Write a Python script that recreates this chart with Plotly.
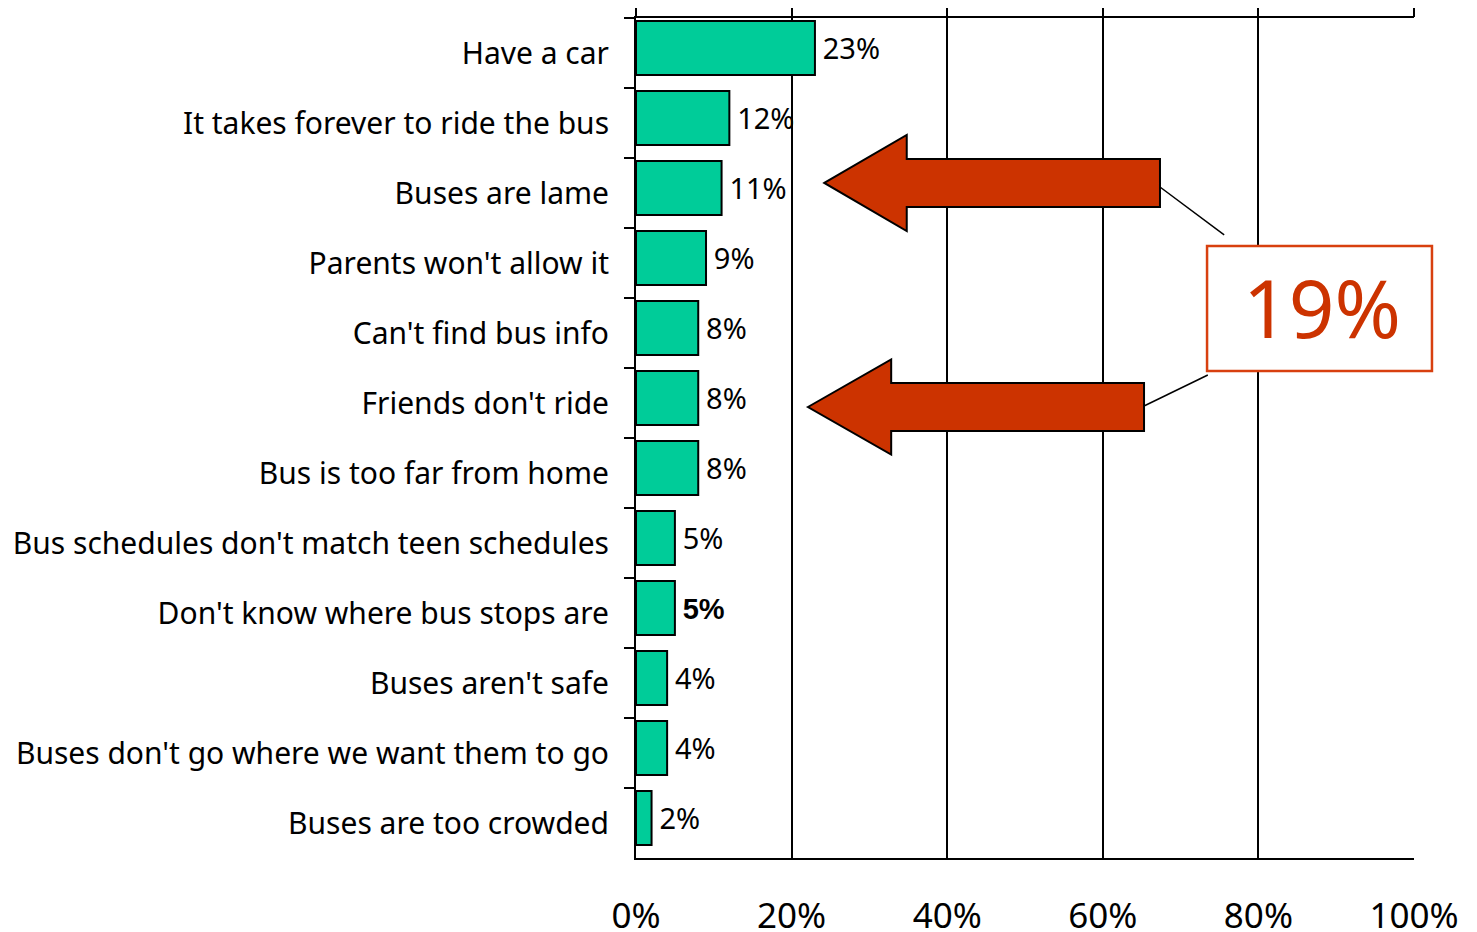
import plotly.graph_objects as go

reasons = ["Have a car", "It takes forever to ride the bus", "Buses are lame",
           "Parents won't allow it", "Can't find bus info", "Friends don't ride",
           "Bus is too far from home", "Bus schedules don't match teen schedules",
           "Don't know where bus stops are", "Buses aren't safe",
           "Buses don't go where we want them to go", "Buses are too crowded"]
shares = [23, 12, 11, 9, 8, 8, 8, 5, 5, 4, 4, 2]
bold_label = [False, False, False, False, False, False, False, False, True, False, False, False]
callout = "19%"

FONT = "Noto Sans"
RED = "#CC3300"

labels = []
for v, b in zip(shares, bold_label):
    if b:
        labels.append("<span style='font-family:Liberation Sans'><b>%d%%</b></span>" % v)
    else:
        labels.append("%d%%" % v)

fig = go.Figure()
fig.add_trace(go.Bar(
    x=shares, y=reasons, orientation="h", width=0.77, offset=-0.457,
    marker=dict(color="#00CC99", line=dict(color="black", width=2)),
    text=["\u2009" + t for t in labels], textposition="outside",
    textfont=dict(family=FONT, size=29, color="black"),
    cliponaxis=False, showlegend=False,
))
# invisible trace so the top axis with outward ticks shows up
fig.add_trace(go.Scatter(x=[0, 100], y=[reasons[0], reasons[0]], xaxis="x2",
                         mode="lines", line=dict(width=0), hoverinfo="skip",
                         showlegend=False))


def arrow(tip, base, end, yc, head_half, body_half):
    # big left-pointing block arrow, x in data %, y in paper
    return ("M %s,%s L %s,%s L %s,%s L %s,%s L %s,%s L %s,%s L %s,%s Z" % (
        tip, yc, base, yc + head_half, base, yc + body_half, end, yc + body_half,
        end, yc - body_half, base, yc - body_half, base, yc - head_half))


shapes = [
    dict(type="path", xref="x", yref="paper", layer="above",
         path=arrow(24.2, 34.8, 67.35, 0.8036, 0.0572, 0.0286),
         fillcolor=RED, line=dict(color="black", width=2)),
    dict(type="path", xref="x", yref="paper", layer="above",
         path=arrow(22.1, 32.8, 65.3, 0.5369, 0.0566, 0.0286),
         fillcolor=RED, line=dict(color="black", width=2)),
    dict(type="line", xref="x", yref="paper", x0=67.35, y0=0.7988, x1=75.6, y1=0.7417,
         line=dict(color="black", width=1.5)),
    dict(type="line", xref="x", yref="paper", x0=65.3, y0=0.5381, x1=73.5, y1=0.575,
         line=dict(color="black", width=1.5)),
    dict(type="rect", xref="paper", yref="paper", x0=0.734, x1=1.0231, y0=0.5798, y1=0.7286,
         fillcolor="white", line=dict(color="#D8400F", width=2.5), layer="above"),
]

# the page body keeps its default 8px margin, so the figure is a bit smaller
fig.update_layout(
    width=1469, height=924,
    margin=dict(l=628, r=63, t=10, b=74),
    plot_bgcolor="white", paper_bgcolor="white",
    font=dict(family=FONT, color="black"),
    shapes=shapes,
    annotations=[dict(text=callout, xref="paper", yref="paper", x=0.882, y=0.656,
                      xanchor="center", yanchor="middle", showarrow=False,
                      font=dict(family=FONT, size=80, color=RED))],
    xaxis=dict(range=[0, 100], dtick=20, ticksuffix="%", showgrid=True,
               gridcolor="black", gridwidth=1.5, showline=True, linecolor="black",
               linewidth=2, mirror=True, ticks="", zeroline=False, automargin=False,
               ticklabelstandoff=26, tickfont=dict(family=FONT, size=35)),
    xaxis2=dict(range=[0, 100], dtick=20, overlaying="x", side="top",
                ticks="outside", ticklen=13, tickwidth=1.5, tickcolor="black",
                showticklabels=False, showgrid=False, zeroline=False, automargin=False),
    yaxis=dict(range=[len(reasons) - 0.5, -0.5], showline=True, linecolor="black",
               linewidth=2, ticks="outside", tickson="boundaries", ticklen=10,
               tickwidth=1.5, tickcolor="black", tickfont=dict(family=FONT, size=30),
               ticklabelstandoff=19, showgrid=False, automargin=False),
)

fig.write_html("out.html")
